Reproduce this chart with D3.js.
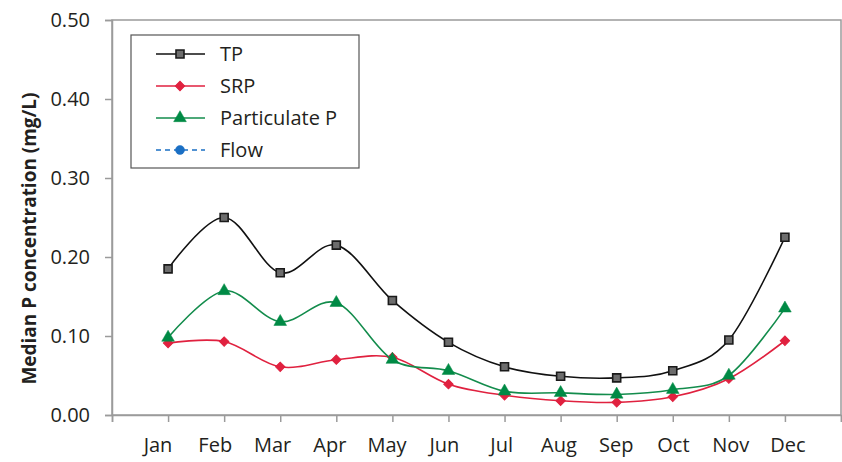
<!DOCTYPE html>
<html><head><meta charset="utf-8">
<script src="https://cdn.jsdelivr.net/npm/d3@7"></script>
<style>body{margin:0;background:#fff}svg{display:block}text{font-family:"Open Sans",sans-serif;fill:#231f20}</style>
</head><body><svg id="c" width="842" height="462"></svg>
<script>
const months = ["Jan","Feb","Mar","Apr","May","Jun","Jul","Aug","Sep","Oct","Nov","Dec"];
const tpValues = [0.185,0.250,0.180,0.215,0.145,0.092,0.061,0.049,0.047,0.056,0.095,0.225];
const srpValues = [0.091,0.093,0.061,0.070,0.073,0.039,0.025,0.018,0.016,0.023,0.046,0.094];
const partValues = [0.098,0.157,0.118,0.142,0.070,0.056,0.030,0.028,0.026,0.032,0.050,0.135];
const yTicks = [0,0.1,0.2,0.3,0.4,0.5];
const seriesNames = ["TP","SRP","Particulate P","Flow"];

(function(){
const svg = d3.select("#c");
const pL=112, pR=841, pT=20, pB=415;
const x = d3.scaleLinear().domain([0,13]).range([pL,pR]);
const xl = d3.scaleLinear().domain([1,12]).range([158,788]);
const y = d3.scaleLinear().domain([0,0.5]).range([pB,pT]);
const axisColor="#9b9b9b";

svg.append("rect").attr("x",pL).attr("y",pT).attr("width",pR-pL).attr("height",pB-pT)
  .attr("fill","none").attr("stroke",axisColor).attr("stroke-width",1.5);

const ya = svg.append("g").attr("transform",`translate(${pL},0)`)
  .call(d3.axisLeft(y).tickValues(yTicks).tickSize(7).tickPadding(15).tickFormat(d3.format(".2f")));
ya.select(".domain").attr("stroke",axisColor).attr("stroke-width",1.5);
ya.selectAll(".tick line").attr("stroke",axisColor).attr("stroke-width",1.5);
ya.selectAll(".tick text").attr("font-size",20).attr("font-family","Open Sans").attr("fill","#231f20");

const xa = svg.append("g").attr("transform",`translate(0,${pB})`)
  .call(d3.axisBottom(x).tickValues(d3.range(0,14)).tickSize(7).tickFormat(""));
xa.select(".domain").attr("stroke",axisColor).attr("stroke-width",1.5);
xa.selectAll(".tick line").attr("stroke",axisColor).attr("stroke-width",1.5);
svg.append("g").selectAll("text").data(months).join("text")
  .attr("x",(d,i)=>xl(i+1)).attr("y",452).attr("text-anchor","middle")
  .attr("font-size",20).text(d=>d);

svg.append("text").attr("transform",`translate(36,${(pT+pB)/2+21}) rotate(-90)`)
  .attr("text-anchor","middle").attr("font-size",20).attr("font-weight","bold")
  .attr("textLength",292).attr("lengthAdjust","spacingAndGlyphs")
  .text("Median P concentration (mg/L)");

const line = d3.line().x((d,i)=>x(i+1)).y(d=>y(d)).curve(d3.curveCatmullRom.alpha(0));
const red="#e0213f", green="#138c4c", blue="#1a6fc4";

const sq = d3.symbol().type(d3.symbolSquare).size(64);
const dm = d3.symbol().type(d3.symbolSquare).size(44);
const tr = d3.symbol().type(d3.symbolTriangle).size(70);
const ci = d3.symbol().type(d3.symbolCircle).size(64);

function series(vals,color,sym,rot,fill,stroke,sw){
  svg.append("path").datum(vals).attr("d",line).attr("fill","none").attr("stroke",color).attr("stroke-width",1.6);
  svg.append("g").selectAll("path").data(vals).join("path")
    .attr("transform",(d,i)=>`translate(${x(i+1)},${y(d)}) rotate(${rot})`)
    .attr("d",sym).attr("fill",fill).attr("stroke",stroke).attr("stroke-width",sw);
}
series(srpValues,red,dm,45,red,red,1);
series(partValues,green,tr,0,"#008a45","#008a45",0.5);
series(tpValues,"#111",sq,0,"#6d6d6d","#1a1a1a",1.6);

const lg = svg.append("g");
lg.append("rect").attr("x",131).attr("y",35).attr("width",228).attr("height",133)
  .attr("fill","#fff").attr("stroke","#555").attr("stroke-width",1.2);
const items = [
  {c:"#111",sym:sq,rot:0,fill:"#6d6d6d",stroke:"#1a1a1a",sw:1.6,dash:null},
  {c:red,sym:dm,rot:45,fill:red,stroke:red,sw:1,dash:null},
  {c:green,sym:tr,rot:0,fill:"#008a45",stroke:"#008a45",sw:0.5,dash:null},
  {c:blue,sym:ci,rot:0,fill:blue,stroke:blue,sw:0.5,dash:"5,4"}
];
items.forEach((it,i)=>{
  const yy = 54 + i*32;
  lg.append("line").attr("x1",156).attr("x2",205).attr("y1",yy).attr("y2",yy)
    .attr("stroke",it.c).attr("stroke-width",1.6).attr("stroke-dasharray",it.dash);
  lg.append("path").attr("transform",`translate(180,${yy}) rotate(${it.rot})`).attr("d",it.sym)
    .attr("fill",it.fill).attr("stroke",it.stroke).attr("stroke-width",it.sw);
  lg.append("text").attr("x",220).attr("y",yy+7).attr("font-size",20).text(seriesNames[i]);
});
})();
</script></body></html>
